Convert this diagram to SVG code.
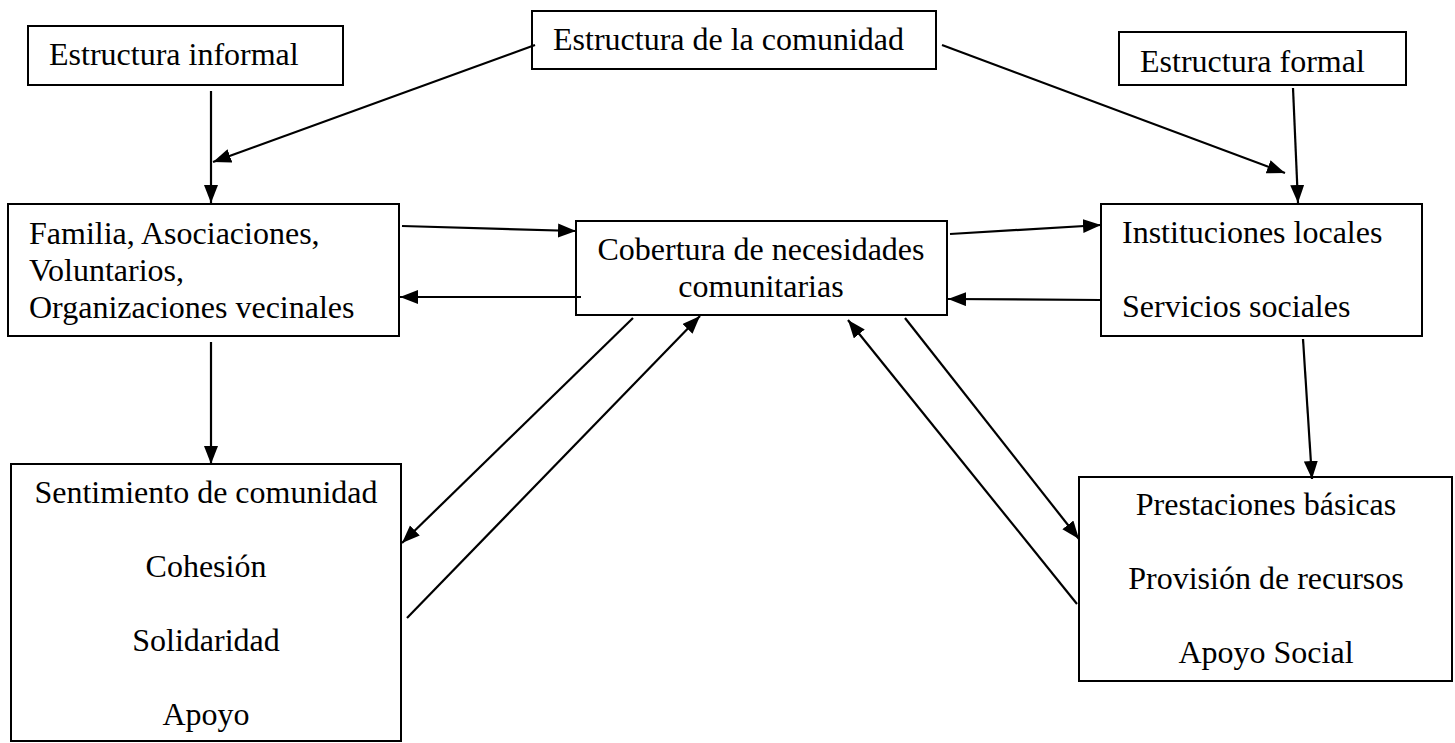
<svg xmlns="http://www.w3.org/2000/svg" width="1455" height="743" viewBox="0 0 1455 743">
<style>
.box{fill:#fff;stroke:#000;stroke-width:2}
.t{font-family:"Liberation Serif","Times New Roman",serif;font-size:32px;fill:#000}
.c{text-anchor:middle}
.ln{stroke:#000;stroke-width:2.2;fill:none}
.ar{marker-end:url(#ah)}
</style>
<defs>
<marker id="ah" markerUnits="userSpaceOnUse" markerWidth="19" markerHeight="15" refX="18" refY="7" orient="auto">
<path d="M0,0 L18,7 L0,14 z" fill="#000"/>
</marker>
</defs>
<rect width="1455" height="743" fill="#fff"/>
<g id="n-informal"><rect class="box" x="28" y="26" width="315" height="59"/><text class="t" x="49" y="65">Estructura informal</text></g>
<g id="n-comunidad"><rect class="box" x="532" y="11" width="404" height="58"/><text class="t" x="553" y="50">Estructura de la comunidad</text></g>
<g id="n-formal"><rect class="box" x="1119" y="32" width="287" height="53"/><text class="t" x="1140" y="72">Estructura formal</text></g>
<g id="n-familia"><rect class="box" x="8" y="204" width="391" height="132"/><text class="t" x="29" y="244">Familia, Asociaciones,</text><text class="t" x="29" y="281">Voluntarios,</text><text class="t" x="29" y="318">Organizaciones vecinales</text></g>
<g id="n-cobertura"><rect class="box" x="576" y="221" width="371" height="94"/><text class="t c" x="761" y="260">Cobertura de necesidades</text><text class="t c" x="761" y="297">comunitarias</text></g>
<g id="n-instituciones"><rect class="box" x="1101" y="204" width="321" height="132"/><text class="t" x="1122" y="243">Instituciones locales</text><text class="t" x="1122" y="317">Servicios sociales</text></g>
<g id="n-sentimiento"><rect class="box" x="11" y="464" width="390" height="277"/><text class="t c" x="206" y="503">Sentimiento de comunidad</text><text class="t c" x="206" y="577">Cohesión</text><text class="t c" x="206" y="651">Solidaridad</text><text class="t c" x="206" y="725">Apoyo</text></g>
<g id="n-prestaciones"><rect class="box" x="1079" y="477" width="373" height="204"/><text class="t c" x="1266" y="515">Prestaciones básicas</text><text class="t c" x="1266" y="589">Provisión de recursos</text><text class="t c" x="1266" y="663">Apoyo Social</text></g>
<g id="connectors">
<line class="ln ar" x1="211" y1="91" x2="211" y2="203"/>
<line class="ln ar" x1="535" y1="45" x2="213" y2="162"/>
<line class="ln ar" x1="942" y1="45" x2="1285" y2="173"/>
<line class="ln ar" x1="1293" y1="88" x2="1298" y2="203"/>
<line class="ln ar" x1="402" y1="226" x2="576" y2="231"/>
<line class="ln ar" x1="581" y1="297" x2="400" y2="297"/>
<line class="ln ar" x1="950" y1="234" x2="1101" y2="225"/>
<line class="ln ar" x1="1101" y1="300" x2="948" y2="299"/>
<line class="ln ar" x1="211" y1="342" x2="211" y2="464"/>
<line class="ln ar" x1="633" y1="318" x2="402" y2="543"/>
<line class="ln ar" x1="407" y1="618" x2="700" y2="316"/>
<line class="ln ar" x1="1077" y1="604" x2="848" y2="320"/>
<line class="ln ar" x1="905" y1="318" x2="1079" y2="539"/>
<line class="ln ar" x1="1303" y1="339" x2="1312" y2="479"/>
</g>
</svg>
